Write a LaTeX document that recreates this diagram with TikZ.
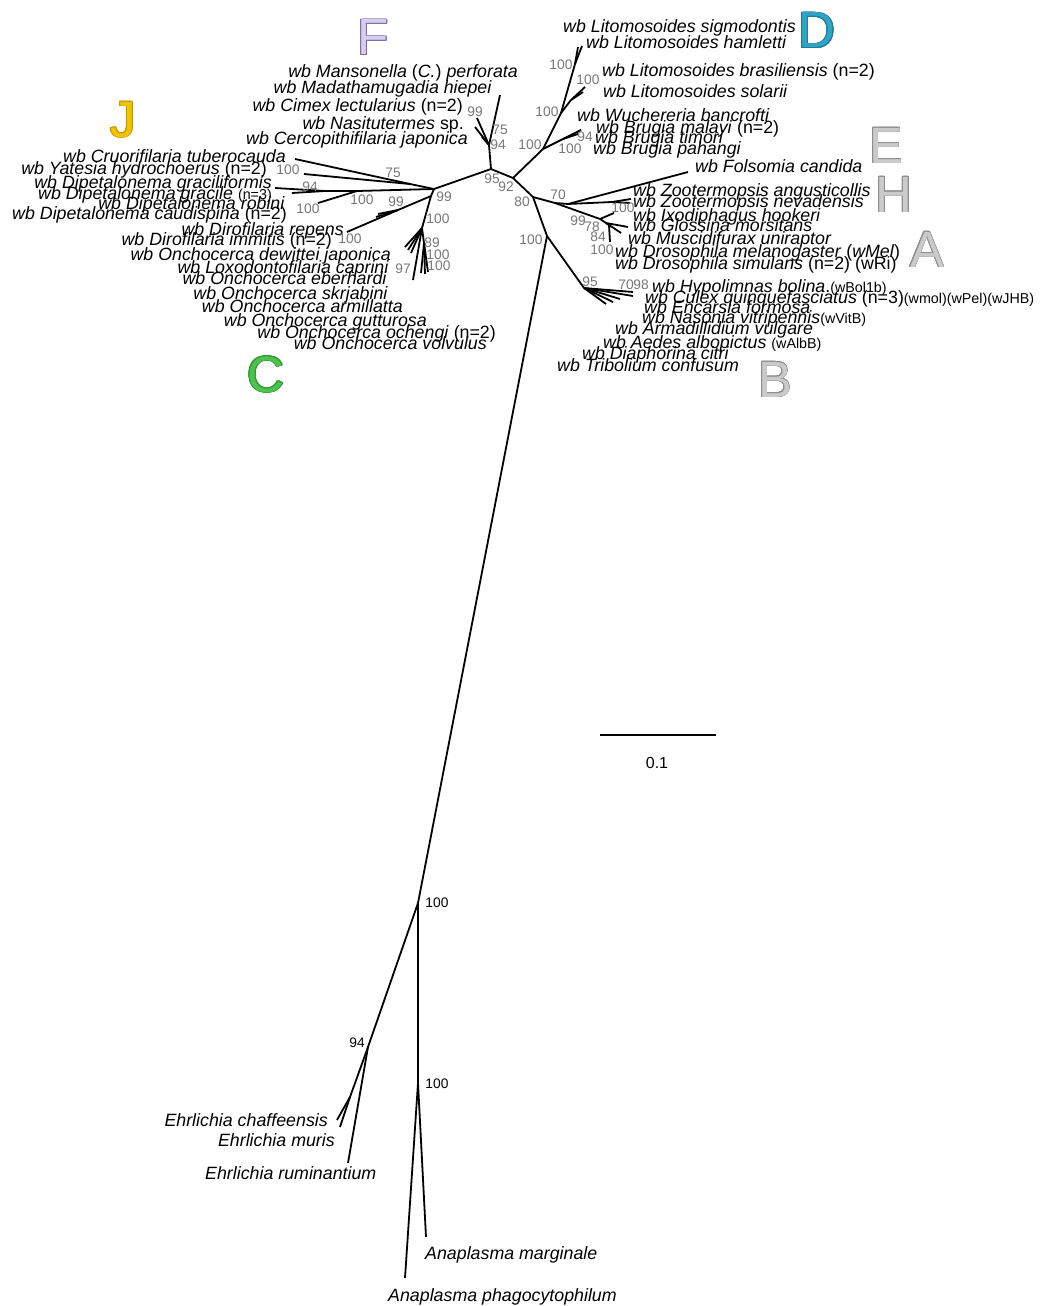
\documentclass[tikz,border=0pt]{standalone}
\usepackage{fontspec}
\setmainfont{Liberation Sans}
\usepackage[copies]{contour}
\contourlength{0.9pt}
\definecolor{bsgray}{HTML}{777777}
\definecolor{Ffill}{HTML}{D8CCF0}
\definecolor{Fline}{HTML}{8070A8}
\definecolor{Dfill}{HTML}{2FA4C4}
\definecolor{Dline}{HTML}{1E7C98}
\definecolor{Gfill}{HTML}{CACACA}
\definecolor{Gline}{HTML}{8E8E8E}
\definecolor{Cfill}{HTML}{4EC24E}
\definecolor{Cline}{HTML}{2F9A2F}
\definecolor{Jfill}{HTML}{F2C400}
\definecolor{Jline}{HTML}{C89A00}
\newcommand\smt[1]{{\fontsize{14.3}{16}\selectfont #1}}
\tikzset{
  br/.style={line width=1.8pt, black},
  lab/.style={inner sep=0pt, text height=12.5pt, text depth=0pt, font=\fontsize{17.8}{20}\selectfont},
  labl/.style={lab, anchor=west},
  labr/.style={lab, anchor=east},
  bs/.style={inner sep=0pt, font=\fontsize{13.8}{15}\selectfont, text=bsgray},
  bsk/.style={bs, text=black},
  bigletter/.style={inner sep=0pt, anchor=base, font=\fontsize{51}{55}\selectfont},
}
\begin{document}
\begin{tikzpicture}[x=1pt,y=-1pt]
\useasboundingbox (0,0) rectangle (1041,1306);
% ---------- internal nodes ----------
\coordinate (N95) at (491,169);
\coordinate (N92) at (513,178);
\coordinate (N99) at (434,189);
\coordinate (N80) at (533,197);
\coordinate (NR) at (547,236);
\coordinate (NAE) at (418,903);
\coordinate (NE94) at (368,1047);
\coordinate (NEin) at (350,1097);
\coordinate (NAna) at (418,1083);
% F
\coordinate (F94) at (489,145);
\coordinate (tMans) at (500,95);
\coordinate (tCimex) at (477,118);
\coordinate (tNasi) at (475,127);
\coordinate (tCerco) at (482,137);
% J
\coordinate (NJ75) at (410,184);
\coordinate (tCruo) at (295,159);
\coordinate (tYat) at (304,174);
\coordinate (ND100) at (357,191);
\coordinate (ND94) at (325,191);
\coordinate (tGr1) at (275,188);
\coordinate (tGr2) at (292,193);
\coordinate (tRob) at (318,203);
% C
\coordinate (NC) at (431,196);
\coordinate (NDiro) at (398,210);
\coordinate (tRep) at (347,232);
\coordinate (tImm1) at (376,217);
\coordinate (tImm2) at (378,214);
\coordinate (NO) at (422,228);
\coordinate (tO1) at (405,247);
\coordinate (tO2) at (408,250);
\coordinate (tO3) at (411,253);
\coordinate (tO4) at (413,280);
\coordinate (NO89) at (424,243);
\coordinate (tO5) at (421,273);
\coordinate (tO6) at (425,274);
\coordinate (tO7) at (428,272);
% D
\coordinate (D1) at (543,149);
\coordinate (D2) at (561,113);
\coordinate (D5) at (575,64);
\coordinate (tLs) at (582,46);
\coordinate (tLh) at (578,47);
\coordinate (D3) at (571,100);
\coordinate (tLb) at (585,87);
\coordinate (tLso) at (583,92);
\coordinate (D4) at (563,139);
\coordinate (tBr1) at (581,130);
\coordinate (tBr2) at (578,134);
% H / A
\coordinate (N70) at (555,203);
\coordinate (NH) at (568,204);
\coordinate (tFol) at (688,172);
\coordinate (NZ) at (612,202);
\coordinate (tZ1) at (631,199);
\coordinate (tZ2) at (630,203);
\coordinate (NA99) at (600,219);
\coordinate (tIx) at (614,213);
\coordinate (NA78) at (606,223);
\coordinate (tGl1) at (628,227);
\coordinate (tGl2) at (621,233);
\coordinate (NA84) at (609,225);
\coordinate (tDr) at (610,242);
% B
\coordinate (NB) at (584,288);
\coordinate (tB1) at (633,292);
\coordinate (tB2) at (633,296);
\coordinate (tB3) at (620,299);
\coordinate (tB4) at (613,302);
\coordinate (tB5) at (606,304);
% outgroup tips
\coordinate (tChaff) at (337,1120);
\coordinate (tMuris) at (340,1127);
\coordinate (tRumin) at (348,1163);
\coordinate (tPhago) at (405,1278);
\coordinate (tMarg) at (426,1237);
% scale bar
\coordinate (sb1) at (600,735);
\coordinate (sb2) at (716,735);

% ---------- branches ----------
\draw[br] (N95) -- (N92);
\draw[br] (N95) -- (N99);
\draw[br] (N95) -- (F94);
\draw[br] (N92) -- (D1);
\draw[br] (N92) -- (N80);
\draw[br] (N80) -- (NR);
\draw[br] (N80) -- (N70);
\draw[br] (NR) -- (NB);
\draw[br] (NR) -- (NAE);
\draw[br] (NAE) -- (NE94);
\draw[br] (NAE) -- (NAna);
\draw[br] (NE94) -- (NEin);
\draw[br] (NEin) -- (tChaff);
\draw[br] (NEin) -- (tMuris);
\draw[br] (NE94) -- (tRumin);
\draw[br] (NAna) -- (tPhago);
\draw[br] (NAna) -- (tMarg);
% F
\draw[br] (F94) -- (tMans);
\draw[br] (F94) -- (tCimex);
\draw[br] (F94) -- (tNasi);
\draw[br] (F94) -- (tCerco);
% J
\draw[br] (N99) -- (NJ75);
\draw[br] (NJ75) -- (tCruo);
\draw[br] (NJ75) -- (tYat);
\draw[br] (N99) -- (ND100);
\draw[br] (ND100) -- (tRob);
\draw[br] (ND100) -- (ND94);
\draw[br] (ND94) -- (tGr1);
\draw[br] (ND94) -- (tGr2);
% C
\draw[br] (N99) -- (NC);
\draw[br] (NC) -- (NDiro);
\draw[br] (NDiro) -- (tRep);
\draw[br] (NDiro) -- (tImm1);
\draw[br] (NDiro) -- (tImm2);
\draw[br] (NC) -- (NO);
\draw[br] (NO) -- (tO1);
\draw[br] (NO) -- (tO2);
\draw[br] (NO) -- (tO3);
\draw[br] (NO) -- (tO4);
\draw[br] (NO) -- (NO89);
\draw[br] (NO89) -- (tO5);
\draw[br] (NO89) -- (tO6);
\draw[br] (NO89) -- (tO7);
% D
\draw[br] (D1) -- (D2);
\draw[br] (D2) -- (D5);
\draw[br] (D5) -- (tLs);
\draw[br] (D5) -- (tLh);
\draw[br] (D2) -- (D3);
\draw[br] (D3) -- (tLb);
\draw[br] (D3) -- (tLso);
\draw[br] (D1) -- (D4);
\draw[br] (D4) -- (tBr1);
\draw[br] (D4) -- (tBr2);
% H / A
\draw[br] (N70) -- (NH);
\draw[br] (NH) -- (tFol);
\draw[br] (NH) -- (NZ);
\draw[br] (NZ) -- (tZ1);
\draw[br] (NZ) -- (tZ2);
\draw[br] (N70) -- (NA99);
\draw[br] (NA99) -- (tIx);
\draw[br] (NA99) -- (NA78);
\draw[br] (NA78) -- (tGl1);
\draw[br] (NA78) -- (tGl2);
\draw[br] (NA78) -- (NA84);
\draw[br] (NA84) -- (tDr);
% B
\draw[br] (NB) -- (tB1);
\draw[br] (NB) -- (tB2);
\draw[br] (NB) -- (tB3);
\draw[br] (NB) -- (tB4);
\draw[br] (NB) -- (tB5);
% scale bar
\draw[line width=1.5pt] (sb1) -- (sb2);
\node[inner sep=0pt, font=\fontsize{16}{18}\selectfont] (sbl) at (657,763) {0.1};

% ---------- big clade letters ----------
\node[bigletter] (LF) at (373,55) {\textcolor{Ffill}{\contour{Fline}{F}}};
\node[bigletter] (LJ) at (123,137) {\textcolor{Jfill}{\contour{Jline}{J}}};
\node[bigletter] (LD) at (817,48) {\textcolor{Dfill}{\contour{Dline}{D}}};
\node[bigletter] (LE) at (886,163) {\textcolor{Gfill}{\contour{Gline}{E}}};
\node[bigletter] (LH) at (894,212) {\textcolor{Gfill}{\contour{Gline}{H}}};
\node[bigletter] (LA) at (927,267) {\textcolor{Gfill}{\contour{Gline}{A}}};
\node[bigletter] (LB) at (775,397) {\textcolor{Gfill}{\contour{Gline}{B}}};
\node[bigletter] (LC) at (266,392) {\textcolor{Cfill}{\contour{Cline}{C}}};

% ---------- taxon labels: left side ----------
\node[labr] (lMans) at (518,71) {\textit{wb Mansonella} (\textit{C.}) \textit{perforata}};
\node[labr] (lMada) at (492,87) {\textit{wb Madathamugadia hiepei}};
\node[labr] (lCimex) at (463,105) {\textit{wb Cimex lectularius} (n=2)};
\node[labr] (lNasi) at (464,123) {\textit{wb Nasitutermes} sp.};
\node[labr] (lCerco) at (468,138) {\textit{wb Cercopithifilaria japonica}};
\node[labr] (lCruo) at (286,156) {\textit{wb Cruorifilaria tuberocauda}};
\node[labr] (lYat) at (267,168) {\textit{wb Yatesia hydrochoerus} (n=2)};
\node[labr] (lDgf) at (272,182) {\textit{wb Dipetalonema graciliformis}};
\node[labr] (lDg) at (272,193) {\textit{wb Dipetalonema gracile} \smt{(n=3)}};
\node[labr] (lDr) at (285,203) {\textit{wb Dipetalonema robini}};
\node[labr] (lDc) at (287,213) {\textit{wb Dipetalonema caudispina} (n=2)};
\node[labr] (lDrep) at (344,229) {\textit{wb Dirofilaria repens}};
\node[labr] (lDimm) at (332,239) {\textit{wb Dirofilaria immitis} (n=2)};
\node[labr] (lOdew) at (391,254) {\textit{wb Onchocerca dewittei japonica}};
\node[labr] (lLox) at (389,267) {\textit{wb Loxodontofilaria caprini}};
\node[labr] (lOeb) at (387,278) {\textit{wb Onchocerca eberhardi}};
\node[labr] (lOsk) at (388,293) {\textit{wb Onchocerca skrjabini}};
\node[labr] (lOar) at (403,306) {\textit{wb Onchocerca armillatta}};
\node[labr] (lOgu) at (427,320) {\textit{wb Onchocerca gutturosa}};
\node[labr] (lOoc) at (496,332) {\textit{wb Onchocerca ochengi} (n=2)};
\node[labr] (lOvo) at (487,343) {\textit{wb Onchocerca volvulus}};

% ---------- taxon labels: right side ----------
\node[labl] (lLs) at (563,26) {\textit{wb Litomosoides sigmodontis}};
\node[labl] (lLh) at (586,42) {\textit{wb Litomosoides hamletti}};
\node[labl] (lLb) at (602,70) {\textit{wb Litomosoides brasiliensis} (n=2)};
\node[labl] (lLso) at (603,91) {\textit{wb Litomosoides solarii}};
\node[labl] (lWb) at (577,115) {\textit{wb Wuchereria bancrofti}};
\node[labl] (lBm) at (596,127) {\textit{wb Brugia malayi} (n=2)};
\node[labl] (lBt) at (595,137) {\textit{wb Brugia timori}};
\node[labl] (lBp) at (593,148) {\textit{wb Brugia pahangi}};
\node[labl] (lFol) at (695,166) {\textit{wb Folsomia candida}};
\node[labl] (lZa) at (633,190) {\textit{wb Zootermopsis angusticollis}};
\node[labl] (lZn) at (633,201) {\textit{wb Zootermopsis nevadensis}};
\node[labl] (lIx) at (633,215) {\textit{wb Ixodiphagus hookeri}};
\node[labl] (lGl) at (633,225) {\textit{wb Glossina morsitans}};
\node[labl] (lMu) at (628,238) {\textit{wb Muscidifurax uniraptor}};
\node[labl] (lDm) at (615,251) {\textit{wb Drosophila melanogaster} (\textit{wMel})};
\node[labl] (lDs) at (615,263) {\textit{wb Drosophila simulans} (n=2) (wRi)};
\node[labl] (lHy) at (652,286) {\textit{wb Hypolimnas bolina}.\smt{(wBol1b)}};
\node[labl] (lCu) at (645,297) {\textit{wb Culex quinquefasciatus} (n=3)\smt{(wmol)(wPel)(wJHB)}};
\node[labl] (lEn) at (644,307) {\textit{wb Encarsia formosa}};
\node[labl] (lNa) at (642,317) {\textit{wb Nasonia vitripennis}\smt{(wVitB)}};
\node[labl] (lAr) at (615,328) {\textit{wb Armadillidium vulgare}};
\node[labl] (lAe) at (603,342) {\textit{wb Aedes albopictus} \smt{(wAlbB)}};
\node[labl] (lDi) at (582,353) {\textit{wb Diaphorina citri}};
\node[labl] (lTr) at (557,365) {\textit{wb Tribolium confusum}};

% ---------- outgroup labels ----------
\node[labr] (lEc) at (328,1120) {\textit{Ehrlichia chaffeensis}};
\node[labr] (lEm) at (335,1140) {\textit{Ehrlichia muris}};
\node[labl] (lEr) at (205,1173) {\textit{Ehrlichia ruminantium}};
\node[labl] (lAm) at (425,1253) {\textit{Anaplasma marginale}};
\node[labl] (lAp) at (388,1295) {\textit{Anaplasma phagocytophilum}};

% ---------- bootstrap values ----------
\node[bs] (b1) at (475,112) {99};
\node[bs] (b2) at (500,130) {75};
\node[bs] (b3) at (498,145) {94};
\node[bs] (b4) at (492,179) {95};
\node[bs] (b5) at (506,187) {92};
\node[bs] (b6) at (522,202) {80};
\node[bs] (b7) at (531,240) {100};
\node[bs] (b8) at (530,145) {100};
\node[bs] (b9) at (547,112) {100};
\node[bs] (b10) at (561,65) {100};
\node[bs] (b11) at (588,80) {100};
\node[bs] (b12) at (585,137) {94};
\node[bs] (b13) at (570,149) {100};
\node[bs] (b14) at (558,195) {70};
\node[bs] (b15) at (623,208) {100};
\node[bs] (b16) at (578,221) {99};
\node[bs] (b17) at (592,227) {78};
\node[bs] (b18) at (598,237) {84};
\node[bs] (b19) at (602,250) {100};
\node[bs] (b20) at (590,282) {95};
\node[bs] (b21) at (626,285) {70};
\node[bs] (b22) at (641,285) {98};
\node[bs] (b23) at (393,173) {75};
\node[bs] (b24) at (288,170) {100};
\node[bs] (b25) at (310,187) {94};
\node[bs] (b26) at (362,200) {100};
\node[bs] (b27) at (308,209) {100};
\node[bs] (b28) at (444,197) {99};
\node[bs] (b29) at (438,219) {100};
\node[bs] (b30) at (396,202) {99};
\node[bs] (b31) at (350,239) {100};
\node[bs] (b32) at (432,243) {89};
\node[bs] (b33) at (438,255) {100};
\node[bs] (b34) at (439,266) {100};
\node[bs] (b35) at (403,269) {97};
\node[bsk] (b36) at (437,903) {100};
\node[bsk] (b37) at (357,1043) {94};
\node[bsk] (b38) at (437,1084) {100};
\end{tikzpicture}
\end{document}
